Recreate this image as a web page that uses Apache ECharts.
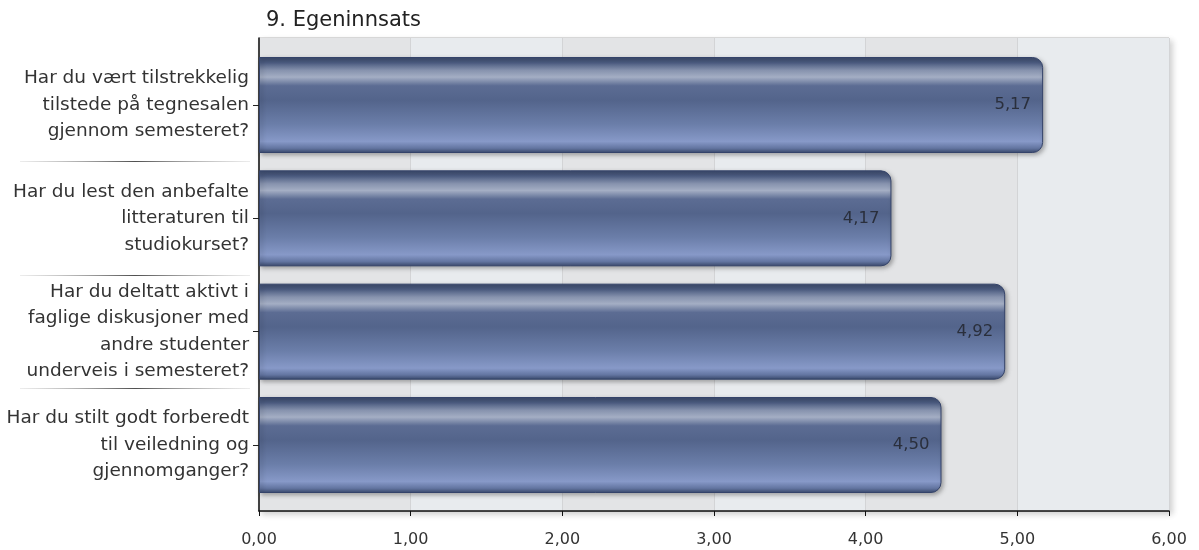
<!DOCTYPE html>
<html>
<head>
<meta charset="utf-8">
<script src="https://cdn.jsdelivr.net/npm/echarts@6/dist/echarts.min.js"></script>
<style>
  html, body { margin: 0; padding: 0; background: #ffffff; }
  #chart { width: 1199px; height: 550px; }
</style>
</head>
<body>
<div id="chart"></div>
<script>
const titleText = '9. Egeninnsats';
const categories = [
  'Har du vært tilstrekkelig\ntilstede på tegnesalen\ngjennom semesteret?',
  'Har du lest den anbefalte\nlitteraturen til\nstudiokurset?',
  'Har du deltatt aktivt i\nfaglige diskusjoner med\nandre studenter\nunderveis i semesteret?',
  'Har du stilt godt forberedt\ntil veiledning og\ngjennomganger?'
];
const values = [5.17, 4.17, 4.92, 4.50];
const xMin = 0, xMax = 6, xStep = 1;

const fmt = v => Number(v).toFixed(2).replace('.', ',');
const FONT = 'DejaVu Sans';

const chart = echarts.init(document.getElementById('chart'), null, { renderer: 'canvas' });

const barGradient = new echarts.graphic.LinearGradient(0, 0, 0, 1, [
  { offset: 0.00, color: '#3a4869' },
  { offset: 0.06, color: '#4b5b80' },
  { offset: 0.14, color: '#8793ae' },
  { offset: 0.21, color: '#a4aec4' },
  { offset: 0.30, color: '#5c6c93' },
  { offset: 0.45, color: '#53648b' },
  { offset: 0.70, color: '#6b7ea9' },
  { offset: 0.88, color: '#8799c8' },
  { offset: 0.95, color: '#6375a1' },
  { offset: 1.00, color: '#39486b' }
]);

const sepGradient = new echarts.graphic.LinearGradient(0, 0, 1, 0, [
  { offset: 0, color: 'rgba(170,170,170,0.2)' },
  { offset: 0.5, color: 'rgba(80,80,80,1)' },
  { offset: 1, color: 'rgba(170,170,170,0.2)' }
]);

chart.setOption({
  animation: false,
  backgroundColor: '#ffffff',
  title: {
    text: titleText,
    left: 261,
    top: 5,
    textStyle: { fontFamily: FONT, fontSize: 21, fontWeight: 'normal', color: '#222222' }
  },
  grid: [
    { // background frame
      left: 259, right: 30, top: 38, bottom: 39,
      show: true,
      backgroundColor: '#e6e7ea',
      borderColor: '#b8b8b8',
      borderWidth: 1,
      shadowColor: 'rgba(0,0,0,0.18)',
      shadowBlur: 6,
      shadowOffsetX: 3,
      shadowOffsetY: 3
    },
    { // bars
      left: 259, right: 30, top: 105, bottom: 105
    },
    { // label separators
      left: 20, right: 949, top: 48, bottom: 48
    }
  ],
  xAxis: [
    {
      gridIndex: 0, type: 'value', min: xMin, max: xMax, interval: xStep,
      axisLine: { show: true, lineStyle: { color: '#111111', width: 1.5 } },
      axisTick: { show: true, length: 5, lineStyle: { color: '#111111' } },
      axisLabel: { formatter: fmt, margin: 21, fontFamily: FONT, fontSize: 16, color: '#333333' },
      splitLine: { show: true, lineStyle: { color: '#d3d4d6', width: 1 } },
      splitArea: { show: true, areaStyle: { color: ['#e3e4e6', '#e8ebee'] } }
    },
    {
      gridIndex: 1, type: 'value', min: xMin, max: xMax, interval: xStep,
      show: false
    },
    {
      gridIndex: 2, type: 'value', min: 0, max: 1, show: false
    }
  ],
  yAxis: [
    {
      gridIndex: 0, type: 'value', min: 0, max: 1,
      axisLine: { show: true, lineStyle: { color: '#111111', width: 1.5 } },
      axisTick: { show: false },
      axisLabel: { show: false },
      splitLine: { show: false }
    },
    {
      gridIndex: 1, type: 'category', data: categories, inverse: true, boundaryGap: false,
      axisLine: { show: false },
      axisTick: { show: true, length: 6, inside: false, lineStyle: { color: '#222222' } },
      axisLabel: {
        margin: 10, fontFamily: FONT, fontSize: 18.5, color: '#333333',
        lineHeight: 26.5, align: 'right'
      },
      splitLine: { show: true, lineStyle: { color: '#d3d4d6', width: 1 } }
    },
    {
      gridIndex: 2, type: 'category', data: categories, inverse: true, boundaryGap: true,
      axisLine: { show: false },
      axisTick: { show: false },
      axisLabel: { show: false },
      splitLine: { show: true, showMinLine: false, showMaxLine: false, lineStyle: { color: sepGradient, width: 1 } }
    }
  ],
  series: [
    {
      type: 'bar',
      xAxisIndex: 1,
      yAxisIndex: 1,
      data: values,
      barWidth: 96,
      itemStyle: {
        color: barGradient,
        borderColor: '#34436a',
        borderWidth: 1,
        borderRadius: [0, 10, 10, 0],
        shadowColor: 'rgba(0,0,0,0.3)',
        shadowBlur: 4,
        shadowOffsetX: 2,
        shadowOffsetY: 2
      },
      label: {
        show: true,
        position: 'insideRight',
        distance: 12,
        formatter: p => fmt(p.value),
        fontFamily: FONT,
        fontSize: 16.5,
        color: '#2a2f3c'
      }
    }
  ]
});
</script>
</body>
</html>
